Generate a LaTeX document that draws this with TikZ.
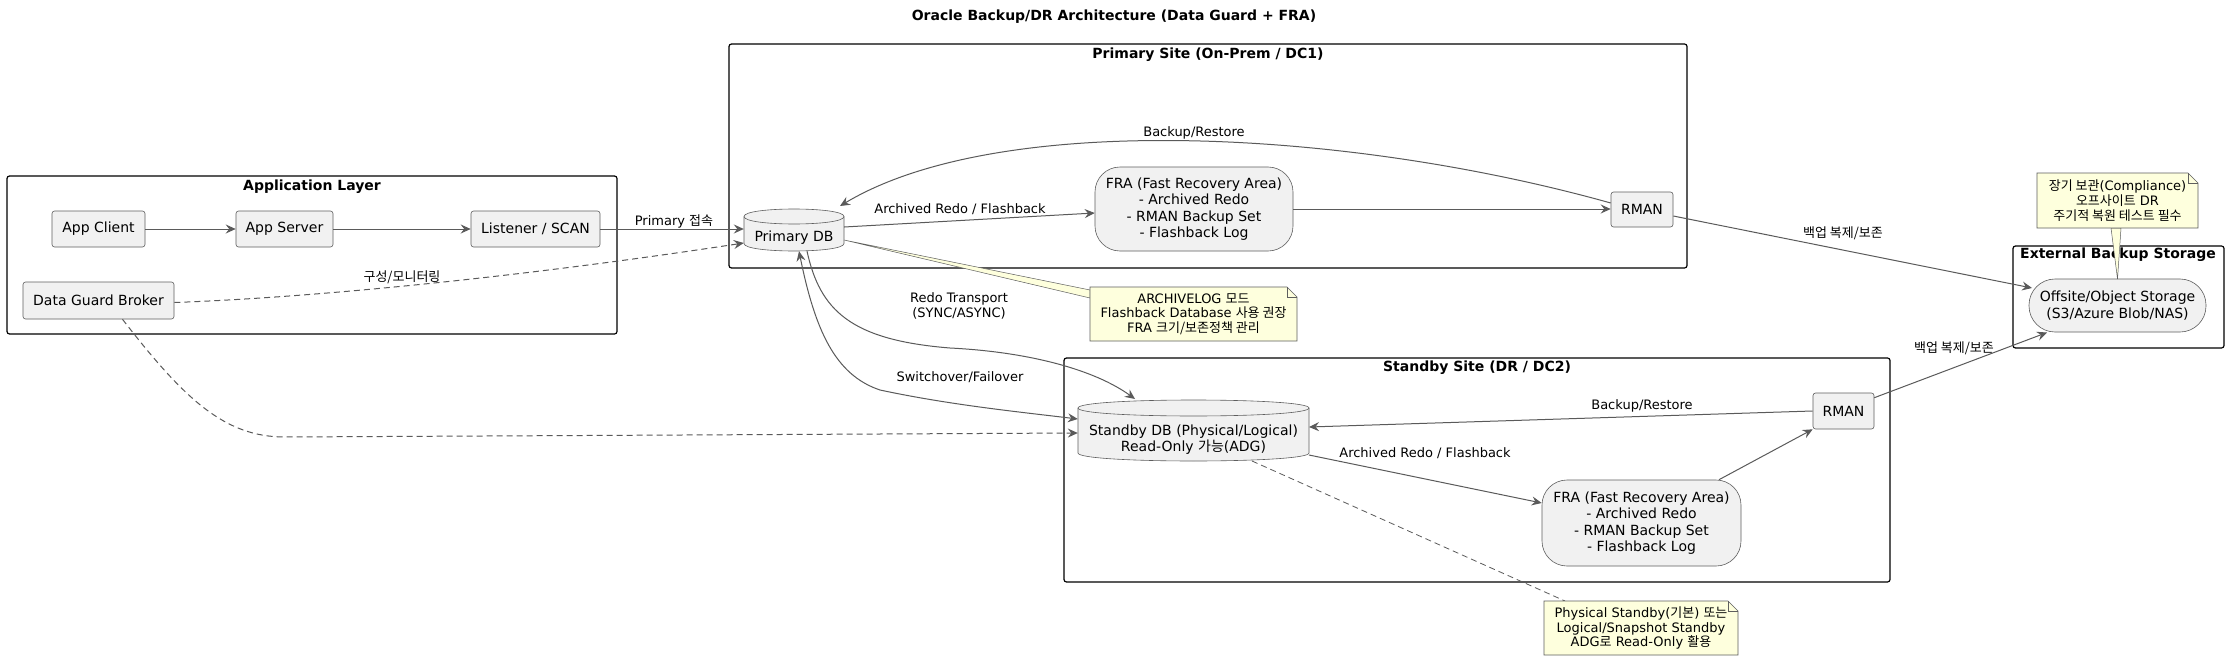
\documentclass[tikz,border=0pt]{standalone}
\usepackage{fontspec}
\setmainfont{DejaVu Sans}
\newfontfamily\kr{Noto Sans CJK KR}
\usetikzlibrary{arrows.meta,calc}
\definecolor{nodefill}{HTML}{F1F1F1}
\definecolor{nodeline}{HTML}{5E5E5E}
\definecolor{arrowc}{HTML}{5A5A5A}
\definecolor{notefill}{HTML}{FEFFDD}
\newcommand\dbcyl[5]{%
  \filldraw[fill=nodefill,draw=nodeline,line width=0.6pt]
    (#1,{#2+#5}) .. controls (#1,{#2-0.333*#5}) and (#3,{#2-0.333*#5}) .. (#3,{#2+#5})
    -- (#3,{#4-#5}) .. controls (#3,{#4+0.333*#5}) and (#1,{#4+0.333*#5}) .. (#1,{#4-#5}) -- cycle;
  \draw[draw=nodeline,line width=0.6pt]
    (#1,{#2+#5}) .. controls (#1,{#2+2.333*#5}) and (#3,{#2+2.333*#5}) .. (#3,{#2+#5});}
\newcommand\notebox[4]{%
  \filldraw[fill=notefill,draw=nodeline,line width=0.6pt]
    (#1,#2) -- ({#3-10},#2) -- (#3,{#2+10}) -- (#3,#4) -- (#1,#4) -- cycle;
  \draw[draw=nodeline,line width=0.6pt] ({#3-10},#2) -- ({#3-10},{#2+10}) -- (#3,{#2+10});}
\begin{document}
\begin{tikzpicture}[x=1pt,y=-1pt,
  box/.style={draw=nodeline,fill=nodefill,line width=0.6pt,rounded corners=2.5pt,inner sep=0pt,
    font=\fontsize{14}{16.3}\selectfont,align=center},
  txt/.style={inner sep=0pt,font=\fontsize{14}{16.3}\selectfont,align=center},
  store/.style={box,rounded corners=25pt},
  lbl/.style={inner sep=0pt,font=\fontsize{13}{15}\selectfont,align=center},
  notetxt/.style={inner sep=0pt,font=\fontsize{13}{14.7}\selectfont,align=center},
  grp/.style={draw=black,line width=1.2pt,rounded corners=2.5pt,fill=white},
  grptitle/.style={inner sep=0pt,font=\bfseries\fontsize{14}{16}\selectfont},
  conn/.style={draw=arrowc,line width=1pt,-{Stealth[length=10pt,width=9pt,inset=3.5pt]}},
  dconn/.style={conn,dash pattern=on 6pt off 4pt},
  wedge/.style={fill=notefill,draw=nodeline,line width=0.5pt}]
\useasboundingbox (0,0) rectangle (2228,661);
\fill[white] (0,0) rectangle (2228,661);

% title
\node[grptitle] (title) at (1114,17) {Oracle Backup/DR Architecture (Data Guard + FRA)};

% groups
\draw[grp] (7,176) rectangle (617,334);
\node[grptitle] (gapp) at (312,187) {Application Layer};
\draw[grp] (729,44) rectangle (1687,268);
\node[grptitle] (gpri) at (1208,55) {Primary Site (On-Prem / DC1)};
\draw[grp] (1064,358) rectangle (1890,582);
\node[grptitle] (gsby) at (1477,368) {Standby Site (DR / DC2)};
\draw[grp] (2013,246) rectangle (2224,348);
\node[grptitle] (gext) at (2118,255) {External Backup Storage};

% nodes
\node[box,minimum width=93pt,minimum height=36pt] (cli) at (98.5,229) {App Client};
\node[box,minimum width=97pt,minimum height=36pt] (srv) at (284.5,229) {App Server};
\node[box,minimum width=129pt,minimum height=36pt] (lst) at (535.5,229) {Listener / SCAN};
\node[box,minimum width=151pt,minimum height=37pt] (brk) at (98.5,300.5) {Data Guard Broker};

\dbcyl{744}{209}{844}{251}{7.5}
\node[txt,minimum width=100pt,minimum height=26pt] (pdb) at (794,238) {Primary DB};
\node[store,minimum width=198pt,minimum height=84pt] (fra1) at (1194,209)
  {FRA (Fast Recovery Area)\\- Archived Redo\\- RMAN Backup Set\\- Flashback Log};
\node[box,minimum width=62pt,minimum height=35pt] (rman1) at (1642,209.5) {RMAN};

\dbcyl{1078}{400}{1309}{461}{8}
\node[txt,minimum width=231pt,minimum height=40pt] (sdb) at (1193.5,439.5)
  {Standby DB (Physical/Logical)\\Read-Only {\kr 가능}(ADG)};
\node[store,minimum width=199pt,minimum height=86pt] (fra2) at (1641.5,523)
  {FRA (Fast Recovery Area)\\- Archived Redo\\- RMAN Backup Set\\- Flashback Log};
\node[box,minimum width=61pt,minimum height=36pt] (rman2) at (1843.5,411) {RMAN};

\node[box,rounded corners=26pt,minimum width=177pt,minimum height=53pt] (off) at (2117.5,305.5)
  {Offsite/Object Storage\\(S3/Azure Blob/NAS)};

% connectors
\draw[conn] (cli) -- (srv);
\draw[conn] (srv) -- (lst);
\draw[conn] (lst.east) -- (lst.east -| pdb.west);
\node[lbl] (l1) at (674,221) {Primary {\kr 접속}};

\draw[dconn] ($(brk.east)+(0,2)$) .. controls (300,298) and (500,280) .. ($(pdb.west)+(0,5)$);
\node[lbl] (l2) at (402,277) {\kr 구성/모니터링};

\draw[dconn] ($(brk.south)+(24,0)$) .. controls (185,400) and (225,437) .. (285,437)
  -- ($(sdb.west)+(0,-6.5)$);

\draw[conn] ($(rman1.west)+(0,-6.5)$) .. controls (1350,130) and (1000,110) .. ($(pdb.center)+(46,-32)$);
\node[lbl] (l3) at (1194,133) {Backup/Restore};

\draw[conn] ($(pdb.east)+(0,-11)$) -- ($(fra1.west)+(0,4)$);
\node[lbl] (l4) at (960,209) {Archived Redo / Flashback};

\draw[conn] (fra1.east) -- (fra1.east -| rman1.west);

\draw[conn] ($(pdb.south)+(13,0)$) .. controls (820,310) and (850,340) .. (950,348)
  .. controls (1030,352) and (1095,370) .. ($(sdb.center)+(-58.5,-40.5)$);
\node[lbl] (l5) at (959,306) {Redo Transport\\(SYNC/ASYNC)};

\draw[conn,{Stealth[length=10pt,width=9pt,inset=3.5pt]}-{Stealth[length=10pt,width=9pt,inset=3.5pt]}]
  ($(pdb.south)+(5,0)$) .. controls (815,330) and (835,375) .. (880,390)
  .. controls (950,405) and (1020,412) .. ($(sdb.west)+(0,-20.5)$);
\node[lbl] (l6) at (960,377) {Switchover/Failover};

\draw[conn] ($(rman1.east)+(0,6.5)$) -- ($(off.center)+(-85.5,-17.5)$);
\node[lbl] (l7) at (1843,233) {\kr 백업 복제/보존};

\draw[conn] ($(rman2.north east)+(0,5)$) -- ($(off.center)+(-70.5,27)$);
\node[lbl] (l8) at (1954,348) {\kr 백업 복제/보존};

\draw[conn] (rman2.west) -- ($(sdb.center)+(115.5,-12.5)$);
\node[lbl] (l9) at (1642,406) {Backup/Restore};

\draw[conn] ($(sdb.center)+(115.5,15.5)$) -- ($(fra2.west)+(0,-20)$);
\node[lbl] (l10) at (1425,453) {Archived Redo / Flashback};

\draw[conn] ($(fra2.north)+(77.5,0)$) -- (rman2.south west);

% notes
\draw[wedge] ($(pdb.center)+(50,2)$) -- (1090,290) -- (1090,298) -- cycle;
\notebox{1090}{287}{1297}{341}
\node[notetxt] (note1) at (1193.5,314)
  {ARCHIVELOG {\kr 모드}\\Flashback Database {\kr 사용 권장}\\FRA {\kr 크기/보존정책 관리}};

\draw[draw=arrowc,line width=0.8pt,dash pattern=on 6pt off 4pt]
  ($(sdb.center)+(58.5,21.5)$) -- (1565,601);
\notebox{1544}{601}{1738}{655}
\node[notetxt] (note2) at (1641,628)
  {Physical Standby({\kr 기본}) {\kr 또는}\\Logical/Snapshot Standby\\ADG{\kr 로} Read-Only {\kr 활용}};

\draw[wedge] ($(off.center)+(0,-26.5)$) -- (2111,228) -- (2121,228) -- cycle;
\notebox{2037}{173}{2198}{228}
\node[notetxt] (note3) at (2117.5,200.5)
  {{\kr 장기 보관}(Compliance)\\{\kr 오프사이트} DR\\{\kr 주기적 복원 테스트 필수}};
\end{tikzpicture}
\end{document}
